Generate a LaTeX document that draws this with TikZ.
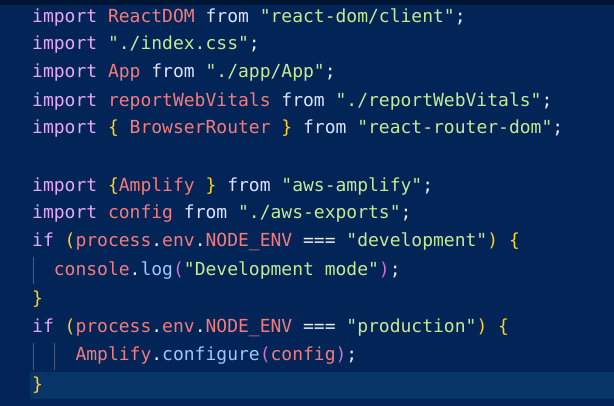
\documentclass[tikz,border=0pt]{standalone}
\usepackage{fontspec}
\setmonofont{DejaVu Sans Mono}
\definecolor{bg}{HTML}{022456}
\definecolor{hl}{HTML}{083568}
\definecolor{kw}{HTML}{E8A8F4}
\definecolor{id}{HTML}{F27C7C}
\definecolor{fr}{HTML}{DDE4FF}
\definecolor{st}{HTML}{C6EA94}
\definecolor{br}{HTML}{FFD21F}
\definecolor{pu}{HTML}{E8ECF8}
\definecolor{fn}{HTML}{9CC8F8}
\definecolor{pp}{HTML}{D070D0}
\definecolor{gd}{HTML}{4A5A80}
\newcommand{\K}[1]{\textcolor{kw}{#1}}
\newcommand{\I}[1]{\textcolor{id}{#1}}
\newcommand{\F}[1]{\textcolor{fr}{#1}}
\newcommand{\Sx}[1]{\textcolor{st}{#1}}
\newcommand{\B}[1]{\textcolor{br}{#1}}
\newcommand{\Px}[1]{\textcolor{pu}{#1}}
\newcommand{\Fn}[1]{\textcolor{fn}{#1}}
\newcommand{\Pp}[1]{\textcolor{pp}{#1}}
\begin{document}
\begin{tikzpicture}[x=1pt,y=-1pt,
  code/.style={anchor=west,inner sep=0pt,font=\ttfamily\fontsize{18}{20}\selectfont,text=pu}]
\useasboundingbox (0,0) rectangle (614,406);
\fill[bg] (0,0) rectangle (614,406);
\fill[black!40!bg] (0,0) rectangle (614,5);
\fill[hl] (30,372) rectangle (614,399);
\draw[gd,line width=0.8pt] (33,257) -- (33,284);
\draw[gd,line width=0.8pt] (33,343) -- (33,370);
\draw[gd,line width=0.8pt] (54,343) -- (54,370);
\node[code] (l1) at (32,17) {\K{import} \I{ReactDOM} \F{from} \Sx{"react-dom/client"}\Px{;}};
\node[code] (l2) at (32,45) {\K{import} \Sx{"./index.css"}\Px{;}};
\node[code] (l3) at (32,73) {\K{import} \I{App} \F{from} \Sx{"./app/App"}\Px{;}};
\node[code] (l4) at (32,101) {\K{import} \I{reportWebVitals} \F{from} \Sx{"./reportWebVitals"}\Px{;}};
\node[code] (l5) at (32,129) {\K{import} \B{\{} \I{BrowserRouter} \B{\}} \F{from} \Sx{"react-router-dom"}\Px{;}};
\node[code] (l7) at (32,186) {\K{import} \B{\{}\I{Amplify} \B{\}} \F{from} \Sx{"aws-amplify"}\Px{;}};
\node[code] (l8) at (32,214) {\K{import} \I{config} \F{from} \Sx{"./aws-exports"}\Px{;}};
\node[code] (l9) at (32,242) {\K{if} \B{(}\I{process}\Px{.}\I{env}\Px{.}\I{NODE\_ENV} \Px{===} \Sx{"development"}\B{)} \B{\{}};
\node[code] (l10) at (32,271) {\ \ \I{console}\Px{.}\Fn{log}\Pp{(}\Sx{"Development mode"}\Pp{)}\Px{;}};
\node[code] (l11) at (32,299) {\B{\}}};
\node[code] (l12) at (32,328) {\K{if} \B{(}\I{process}\Px{.}\I{env}\Px{.}\I{NODE\_ENV} \Px{===} \Sx{"production"}\B{)} \B{\{}};
\node[code] (l13) at (32,356) {\ \ \ \ \I{Amplify}\Px{.}\Fn{configure}\Pp{(}\I{config}\Pp{)}\Px{;}};
\node[code] (l14) at (32,385) {\B{\}}};
\end{tikzpicture}
\end{document}
